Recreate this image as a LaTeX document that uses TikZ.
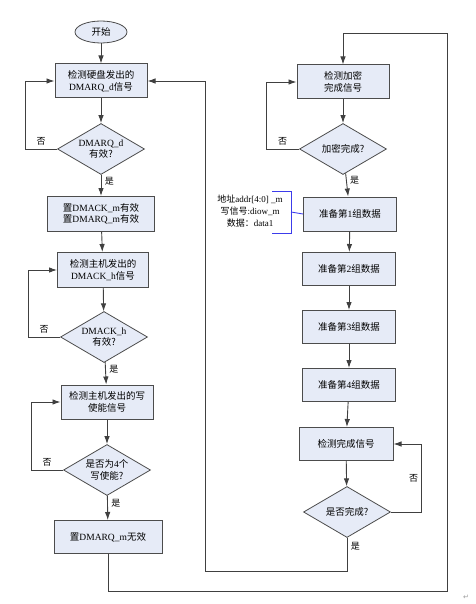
\documentclass[tikz,border=0pt]{standalone}
\usepackage{fontspec}
\setmainfont{Liberation Serif}
\newfontfamily\cjk{Noto Sans CJK SC}
\newfontfamily\symf{DejaVu Sans}
\newcommand{\zh}[1]{{\cjk #1}}
\usetikzlibrary{shapes.geometric,arrows.meta}
\definecolor{boxfill}{RGB}{230,235,247}
\definecolor{notebl}{RGB}{60,60,235}

\begin{document}
\begin{tikzpicture}[x=1pt,y=-1pt,font=\fontsize{9.5}{11.5}\selectfont,
    box/.style={draw=black!70,line width=1pt,fill=boxfill,minimum height=34pt,align=center,inner sep=1pt},
    dec/.style={diamond,draw=black!70,line width=.8pt,fill=boxfill,shape aspect=1.7,inner sep=0pt,minimum width=87pt,minimum height=51pt,align=center},
    line/.style={draw=black!75,line width=.9pt},
    >={Latex[length=8pt,width=5.5pt]},
    lbl/.style={font=\fontsize{9}{10}\selectfont\cjk}]
      \useasboundingbox (0,0) rectangle (475,604);
      % left column
      \node[ellipse,draw=black!70,line width=.8pt,fill=boxfill,minimum width=52pt,minimum height=22pt,inner sep=0pt] (start) at (101,32) {\zh{开始}};
      \node[box,minimum width=92pt] (b1) at (101,81) {\zh{检测硬盘发出的}\\DMARQ\_d\zh{信号}};
      \node[dec] (d1) at (101,149) {DMARQ\_d\\\zh{有效?}};
      \node[box,minimum width=107pt,minimum height=35pt] (b2) at (101,214) {\zh{置}DMACK\_m\zh{有效}\\\zh{置}DMARQ\_m\zh{有效}};
      \node[box,minimum width=91pt,minimum height=35pt] (b3) at (103,270) {\zh{检测主机发出的}\\DMACK\_h\zh{信号}};
      \node[dec] (d2) at (104,337) {DMACK\_h\\\zh{有效?}};
      \node[box,minimum width=92pt] (b4) at (107,402) {\zh{检测主机发出的写}\\\zh{使能信号}};
      \node[dec] (d3) at (107,470) {\zh{是否为}4\zh{个}\\\zh{写使能?}};
      \node[box,minimum width=108pt,minimum height=33pt] (b5) at (108,537) {\zh{置}DMARQ\_m\zh{无效}};
      % right column
      \node[box,minimum width=92pt] (b6) at (343,82) {\zh{检测加密}\\\zh{完成信号}};
      \node[dec] (d4) at (343,149) {\zh{加密完成?}};
      \node[box,minimum width=93pt] (b7) at (350,214) {\zh{准备第}1\zh{组数据}};
      \node[box,minimum width=93pt,minimum height=33pt] (b8) at (349,269) {\zh{准备第}2\zh{组数据}};
      \node[box,minimum width=93pt,minimum height=33pt] (b9) at (349,327) {\zh{准备第}3\zh{组数据}};
      \node[box,minimum width=93pt,minimum height=33pt] (b10) at (349,385) {\zh{准备第}4\zh{组数据}};
      \node[box,minimum width=94pt,minimum height=33pt] (b11) at (346,444) {\zh{检测完成信号}};
      \node[dec] (d5) at (347,512) {\zh{是否完成?}};
      % note
      \node[align=center,inner sep=0pt,font=\fontsize{9}{12}\selectfont] (note) at (250,211) {\zh{地址}addr[4:0] \_m\\\zh{写信号}:diow\_m\\\zh{数据：}data1};
      \coordinate (bm) at (291,212);
      \draw[notebl,line width=.9pt] (272,191) -| (291,233) -- (272,233);
      \draw[notebl,line width=.9pt] (bm) -- (b7.west);
      \coordinate (c1) at (205,571);
      \coordinate (c2) at (447,591);
      \coordinate (c3) at (447,33);
      % arrows
      \draw[line,->] (start) -- (b1);
      \draw[line,->] (b1) -- (d1);
      \draw[line,->] (d1) -- node[lbl,right,pos=.3]{是} (b2);
      \draw[line,->] (d1.west) -- node[lbl,above]{否} ++(-32,0) |- (b1.west);
      \draw[line,->] (b2) -- (b3);
      \draw[line,->] (b3) -- (d2);
      \draw[line,->] (d2) -- node[lbl,right,pos=.3]{是} (b4);
      \draw[line,->] (d2.west) -- node[lbl,above]{否} ++(-32,0) |- (b3.west);
      \draw[line,->] (b4) -- (d3);
      \draw[line,->] (d3) -- node[lbl,right,pos=.3]{是} (b5);
      \draw[line,->] (d3.west) -- node[lbl,above]{否} ++(-32,0) |- (b4.west);
      \draw[line,->] (b6) -- (d4);
      \draw[line,->] (d4) -- node[lbl,right,pos=.3]{是} (b7);
      \draw[line,->] (d4.west) -- node[lbl,above]{否} ++(-33,0) |- (b6.west);
      \draw[line,->] (b7) -- (b8);
      \draw[line,->] (b8) -- (b9);
      \draw[line,->] (b9) -- (b10);
      \draw[line,->] (b10) -- (b11);
      \draw[line,->] (b11) -- (d5);
      \draw[line,->] (d5.east) -- ++(31,0) |- node[lbl,pos=.25,left]{否} (b11.east);
      \draw[line,->] (d5.south) -- node[lbl,pos=.25,right]{是} (d5.south |- c1) -- (c1) |- (b1.east);
      \draw[line,->] (b5.south) |- (c2) -- (c3) -| (b6.north);
      \node[text=black!40,font=\symf\fontsize{7}{8}\selectfont] (ret) at (466,597) {↵};
    \end{tikzpicture}
\end{document}
